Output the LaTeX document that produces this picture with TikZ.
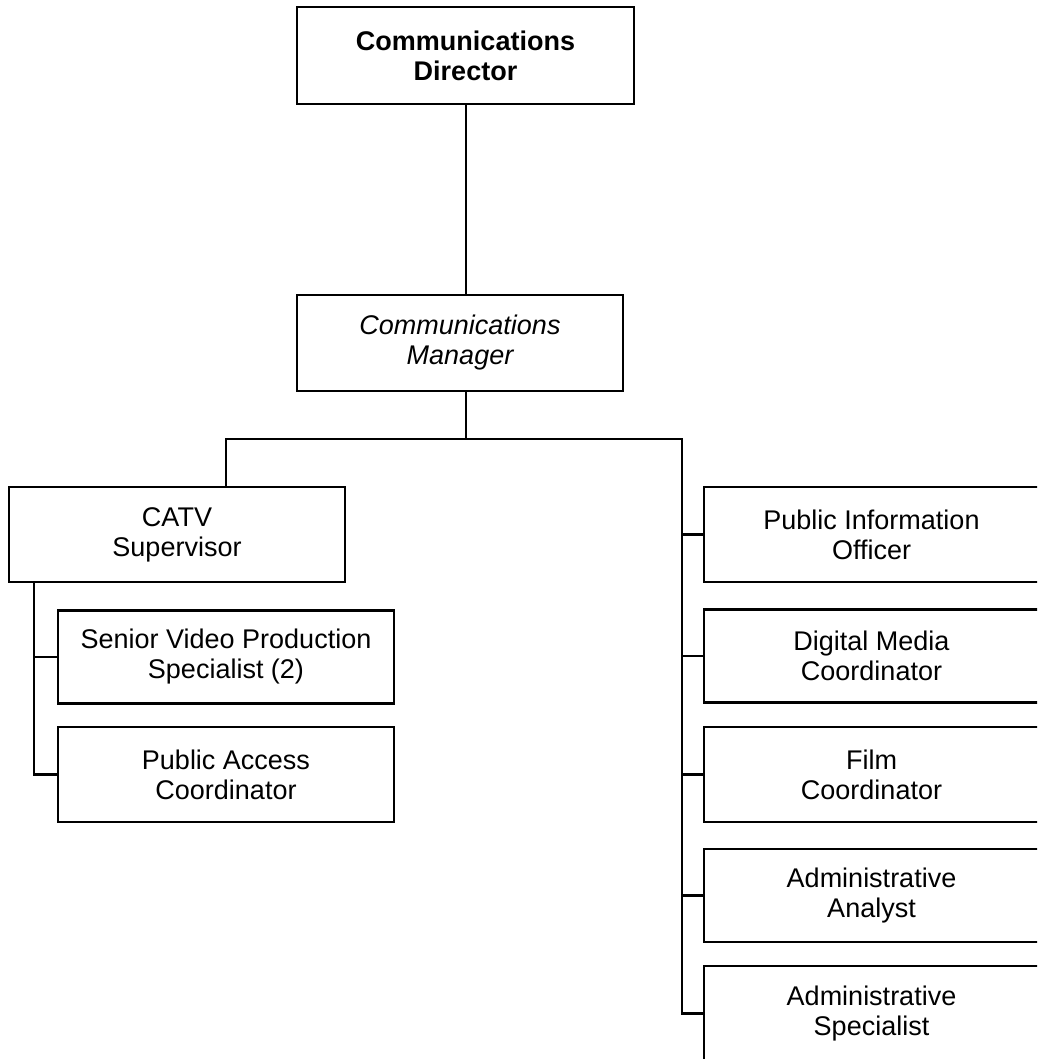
\documentclass[tikz,border=0pt]{standalone}
\usepackage{fontspec}
\setmainfont{Liberation Sans}
\begin{document}
\begin{tikzpicture}[x=1pt,y=-1pt,
  box/.style={draw,line width=2.2pt,align=center,inner sep=0pt,
    font=\fontsize{27}{30}\selectfont},
  conn/.style={line width=2.2pt}]
\path[use as bounding box,clip] (0,0) rectangle (1037,1059);
% top
\node[box,minimum width=337,minimum height=97] (dir) at (465.5,55.5) {\bfseries Communications\\\bfseries Director};
\node[box,minimum width=326,minimum height=96] (mgr) at (460,343) {\itshape Communications\\\itshape Manager};
% left
\node[box,minimum width=336,minimum height=95] (catv) at (177,534.5) {CATV\\Supervisor};
\node[box,minimum width=336,minimum height=93] (svp) at (226,657) {Senior Video Production\\Specialist (2)};
\node[box,minimum width=336,minimum height=95] (pac) at (226,774.5) {Public Access\\Coordinator};
% right
\node[box,minimum width=335,minimum height=95] (pio) at (871.5,534.5) {Public Information\\Officer};
\node[box,minimum width=335,minimum height=93] (dmc) at (871.5,656) {Digital Media\\Coordinator};
\node[box,minimum width=335,minimum height=95] (film) at (871.5,774.5) {Film\\Coordinator};
\node[box,minimum width=335,minimum height=93] (aa) at (871.5,895.5) {Administrative\\Analyst};
\node[box,minimum width=335,minimum height=95] (as) at (871.5,1013.5) {Administrative\\Specialist};
% connectors
\coordinate (top) at (466,104);
\coordinate (busL) at (226,439);
\coordinate (busC) at (466,439);
\coordinate (busR) at (682,439);
\coordinate (lsp) at (34,582);
\draw[conn] (top) -- (top |- mgr.north);
\draw[conn] (busC |- mgr.south) -- (busC);
\draw[conn] (busL |- catv.north) -- (busL) -- (busR) -- (busR |- as.west) -- (as.west);
\draw[conn] (busR |- pio.west) -- (pio.west);
\draw[conn] (busR |- dmc.west) -- (dmc.west);
\draw[conn] (busR |- film.west) -- (film.west);
\draw[conn] (busR |- aa.west) -- (aa.west);
\draw[conn] (lsp) |- (svp.west);
\draw[conn] (lsp) |- (pac.west);
\end{tikzpicture}
\end{document}
